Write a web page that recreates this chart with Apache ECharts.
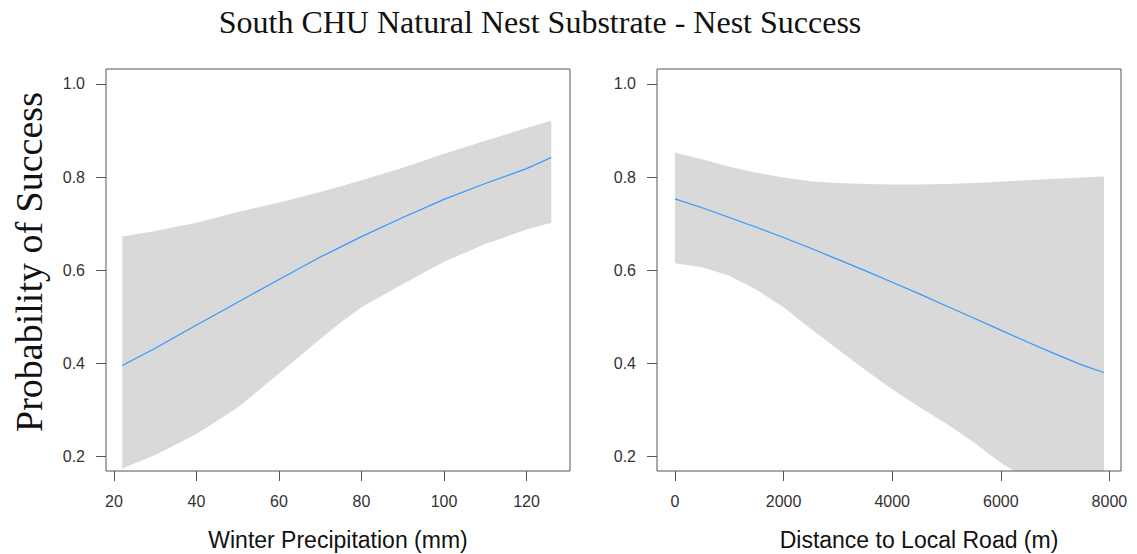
<!DOCTYPE html>
<html>
<head>
<meta charset="utf-8">
<script src="https://cdn.jsdelivr.net/npm/echarts@6/dist/echarts.min.js"></script>
<style>
html,body{margin:0;padding:0;background:#fff;}
#chart{width:1137px;height:554px;}
</style>
</head>
<body>
<div id="chart"></div>
<script>
// ---- Data ----
const precip      = [22, 30, 40, 50, 60, 70, 75, 80, 90, 100, 110, 120, 126];
const precipFit   = [0.395, 0.432, 0.482, 0.531, 0.580, 0.628, 0.650, 0.672, 0.713, 0.752, 0.786, 0.818, 0.842];
const precipUpper = [0.672, 0.684, 0.702, 0.725, 0.745, 0.768, 0.780, 0.793, 0.820, 0.850, 0.878, 0.905, 0.921];
const precipLower = [0.174, 0.203, 0.248, 0.305, 0.378, 0.452, 0.488, 0.520, 0.570, 0.618, 0.656, 0.687, 0.702];

const dist      = [0, 500, 1000, 1500, 2000, 2500, 3000, 3500, 4000, 4500, 5000, 5500, 6000, 6500, 7000, 7500, 7900];
const distFit   = [0.753, 0.734, 0.713, 0.692, 0.670, 0.647, 0.623, 0.599, 0.574, 0.549, 0.523, 0.497, 0.471, 0.445, 0.420, 0.396, 0.380];
const distUpper = [0.852, 0.838, 0.822, 0.809, 0.799, 0.791, 0.787, 0.785, 0.784, 0.784, 0.785, 0.787, 0.790, 0.793, 0.796, 0.799, 0.801];
const distLower = [0.615, 0.606, 0.588, 0.558, 0.520, 0.474, 0.430, 0.386, 0.344, 0.306, 0.270, 0.230, 0.186, 0.150, 0.120, 0.095, 0.080];

const yTicks      = [0.2, 0.4, 0.6, 0.8, 1.0];
const precipTicks = [20, 40, 60, 80, 100, 120];
const distTicks   = [0, 2000, 4000, 6000, 8000];

const titleText  = 'South CHU Natural Nest Substrate - Nest Success';
const yLabelText = 'Probability of Success';
const xLabelLeft  = 'Winter Precipitation (mm)';
const xLabelRight = 'Distance to Local Road (m)';

// ---- Styles ----
const BAND = '#d9d9d9';
const LINE = '#3399ff';
const FRAME = '#555555';
const LABEL = '#333333';
const SANS = 'Liberation Sans, Arial, sans-serif';
const SERIF = 'Liberation Serif, Times New Roman, serif';

function pairs(xs, ys){ return xs.map((x,i)=>[x, ys[i]]); }
function bandRows(xs, lo, hi){ return xs.map((x,i)=>[x, lo[i], hi[i]]); }

function xAxisCfg(idx, min, max, ticks){
  return {
    type:'value', gridIndex: idx, min, max, position:'bottom',
    axisLine:{show:false, onZero:false},
    splitLine:{show:false},
    axisTick:{show:true, inside:false, length:10, customValues: ticks, lineStyle:{color:FRAME, width:1}},
    axisLabel:{show:true, customValues: ticks, margin:22, fontSize:16, fontFamily:SANS, color:LABEL,
      formatter: v => String(v)}
  };
}
function yAxisCfg(idx){
  return {
    type:'value', gridIndex: idx, min:0.1685, max:1.032, position:'left',
    axisLine:{show:false, onZero:false},
    splitLine:{show:false},
    axisTick:{show:true, inside:false, length:10, customValues: yTicks, lineStyle:{color:FRAME, width:1}},
    axisLabel:{show:true, customValues: yTicks, margin:21, fontSize:16, fontFamily:SANS, color:LABEL,
      formatter: v => Number(v).toFixed(1)}
  };
}
function bandRender(rows){
  return function(params, api){
    if (params.dataIndex !== 0) return null;
    const top = rows.map(r => api.coord([r[0], r[2]]));
    const bot = rows.map(r => api.coord([r[0], r[1]])).reverse();
    const cs = params.coordSys;
    return {
      type:'polygon',
      shape:{points: top.concat(bot)},
      style:{fill:BAND, stroke:null},
      clipPath:{type:'rect', shape:{x:cs.x, y:cs.y, width:cs.width, height:cs.height}},
      silent:true
    };
  };
}
function panelSeries(idx, xs, lo, hi, fit){
  const rows = bandRows(xs, lo, hi);
  return [
    {type:'custom', xAxisIndex:idx, yAxisIndex:idx, data: rows, renderItem: bandRender(rows),
     encode:{x:0, y:[1,2]}, silent:true, z:1},
    {type:'line', xAxisIndex:idx, yAxisIndex:idx, data: pairs(xs, fit), symbol:'none',
     lineStyle:{color:LINE, width:1.2}, clip:true, z:3}
  ];
}

const chart = echarts.init(document.getElementById('chart'), null, {renderer:'svg'});
chart.setOption({
  animation:false,
  backgroundColor:'#ffffff',
  grid:[
    {left:106, top:69, width:464, height:402, show:true, borderColor:FRAME, borderWidth:1, backgroundColor:'transparent', z:5},
    {left:657, top:69, width:464, height:402, show:true, borderColor:FRAME, borderWidth:1, backgroundColor:'transparent', z:5}
  ],
  xAxis:[ xAxisCfg(0, 18.06, 130.54, precipTicks), xAxisCfg(1, -331, 8214, distTicks) ],
  yAxis:[ yAxisCfg(0), yAxisCfg(1) ],
  series:[
    ...panelSeries(0, precip, precipLower, precipUpper, precipFit),
    ...panelSeries(1, dist, distLower, distUpper, distFit)
  ],
  graphic:[
    {type:'text', x:540, y:22, style:{text:titleText, fontSize:32, fontFamily:SERIF, fill:'#111', align:'center', verticalAlign:'middle'}},
    {type:'text', x:29, y:262, rotation:Math.PI/2, style:{text:yLabelText, fontSize:38, fontFamily:SERIF, fill:'#111', align:'center', verticalAlign:'middle'}},
    {type:'text', x:338, y:540, style:{text:xLabelLeft, fontSize:23, fontFamily:SANS, fill:'#111', align:'center', verticalAlign:'middle'}},
    {type:'text', x:919, y:540, style:{text:xLabelRight, fontSize:23, fontFamily:SANS, fill:'#111', align:'center', verticalAlign:'middle'}}
  ]
});
</script>
</body>
</html>
